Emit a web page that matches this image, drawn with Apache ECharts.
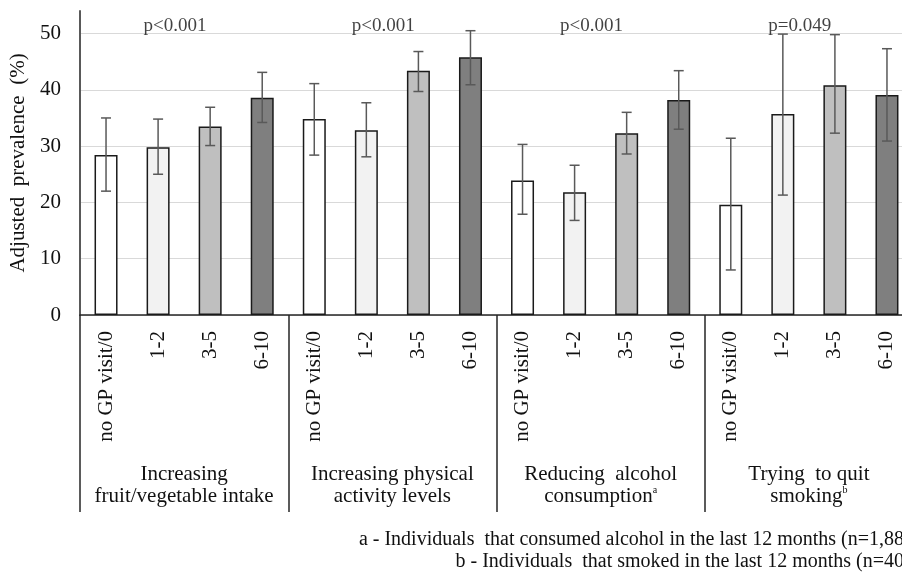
<!DOCTYPE html>
<html>
<head>
<meta charset="utf-8">
<script src="https://cdn.jsdelivr.net/npm/echarts@6/dist/echarts.min.js"></script>
<style>
html, body { margin: 0; padding: 0; background: #fff; }
#chart { width: 902px; height: 575px; }
</style>
</head>
<body>
<div id="chart"></div>
<script>
const visitLabels = ['no GP visit/0', '1-2', '3-5', '6-10']
const groupNames = [
  'Increasing\nfruit/vegetable intake',
  'Increasing physical\nactivity levels',
  'Reducing  alcohol\nconsumption{sup|a}',
  'Trying  to quit\nsmoking{sup|b}'
]
const pValues = ['p<0.001', 'p<0.001', 'p<0.001', 'p=0.049']
// adjusted prevalence (%), one row per behaviour, one value per visit band
const prevalence = [
  [28.4, 29.8, 33.5, 38.6],
  [34.8, 32.8, 43.4, 45.8],
  [23.9, 21.8, 32.3, 38.2],
  [19.6, 35.7, 40.8, 39.1]
]
const ciLow = [
  [22.0, 25.0, 30.1, 34.2],
  [28.4, 28.1, 39.7, 40.9],
  [17.9, 16.8, 28.6, 33.0],
  [8.0, 21.3, 32.3, 30.9]
]
const ciHigh = [
  [35.0, 34.8, 36.9, 43.1],
  [41.1, 37.7, 46.8, 50.5],
  [30.3, 26.6, 36.0, 43.4],
  [31.4, 49.9, 49.8, 47.3]
]
const footnotes = [
  'a - Individuals  that consumed alcohol in the last 12 months (n=1,88',
  'b - Individuals  that smoked in the last 12 months (n=40'
]

const bandColors = ['#ffffff', '#f2f2f2', '#bfbfbf', '#7f7f7f']
const font = 'Liberation Serif'

const categories = []
const barData = []
const errData = []
groupNames.forEach(function(g, gi) {
  visitLabels.forEach(function(v, vi) {
    const idx = gi * 4 + vi
    categories.push(v)
    barData.push(prevalence[gi][vi])
    errData.push([idx, ciLow[gi][vi], ciHigh[gi][vi]])
  })
})
const pData = pValues.map(function(p, gi) {
  return { value: [gi * 4 + 1, 51.3], name: p }
})

const chart = echarts.init(document.getElementById('chart'))
const option = {
  animation: false,
  textStyle: { fontFamily: font },
  // plot runs past the right edge, the picture is cut there
  grid: { left: 80, top: 11, width: 833, bottom: 260, containLabel: false, outerBoundsMode: 'none' },
  xAxis: [
    {
      type: 'category',
      data: categories,
      axisLine: { lineStyle: { color: '#262626', width: 1.5 } },
      axisTick: { show: false },
      axisLabel: {
        interval: 0,
        rotate: 90,
        margin: 16,
        fontSize: 21,
        color: '#111',
        fontFamily: font
      }
    },
    {
      type: 'category',
      data: groupNames,
      position: 'bottom',
      offset: 197,
      axisLine: { show: false },
      axisTick: {
        show: true,
        inside: true,
        interval: 0,
        length: 197,
        lineStyle: { color: '#262626', width: 1.5 }
      },
      axisLabel: {
        interval: 0,
        inside: true,
        margin: 5,
        fontSize: 21,
        lineHeight: 22,
        color: '#111',
        fontFamily: font,
        rich: {
          sup: { fontSize: 10, verticalAlign: 'top', fontFamily: font, color: '#111', padding: [0, 0, 8, 0] }
        }
      }
    }
  ],
  yAxis: {
    type: 'value',
    min: 0,
    max: 54,
    interval: 10,
    name: 'Adjusted  prevalence  (%)',
    nameLocation: 'middle',
    nameGap: 47,
    nameTextStyle: { fontSize: 21, color: '#111', fontFamily: font },
    axisLine: { show: true, lineStyle: { color: '#595959', width: 2 } },
    axisTick: { show: false },
    axisLabel: { showMaxLabel: false, margin: 19, fontSize: 21, color: '#111', fontFamily: font },
    splitLine: { showMaxLine: false, lineStyle: { color: '#d9d9d9', width: 1.2 } }
  },
  series: [
    {
      type: 'bar',
      data: barData,
      barWidth: 23,
      itemStyle: {
        color: function(p) { return bandColors[p.dataIndex % 4] },
        borderColor: '#1a1a1a',
        borderWidth: 1.5
      }
    },
    {
      type: 'custom',
      data: errData,
      encode: { x: 0, y: [1, 2] },
      z: 5,
      renderItem: function(params, api) {
        const x = api.value(0)
        const lo = api.coord([x, api.value(1)])
        const hi = api.coord([x, api.value(2)])
        const cap = 5
        const style = { stroke: '#595959', lineWidth: 1.5 }
        return {
          type: 'group',
          children: [
            { type: 'line', shape: { x1: hi[0], y1: hi[1], x2: lo[0], y2: lo[1] }, style: style },
            { type: 'line', shape: { x1: hi[0] - cap, y1: hi[1], x2: hi[0] + cap, y2: hi[1] }, style: style },
            { type: 'line', shape: { x1: lo[0] - cap, y1: lo[1], x2: lo[0] + cap, y2: lo[1] }, style: style }
          ]
        }
      }
    },
    {
      type: 'scatter',
      data: pData,
      symbolSize: 0,
      silent: true,
      label: {
        show: true,
        formatter: '{b}',
        position: 'inside',
        offset: [17, 0],
        fontSize: 19,
        color: '#111',
        fontFamily: font
      }
    }
  ],
  graphic: footnotes.map(function(t, i) {
    return {
      type: 'text',
      right: -2,
      top: 530 + i * 22,
      style: { text: t, fontSize: 20, fontFamily: font, fill: '#111' }
    }
  })
}
chart.setOption(option)
</script>
</body>
</html>
